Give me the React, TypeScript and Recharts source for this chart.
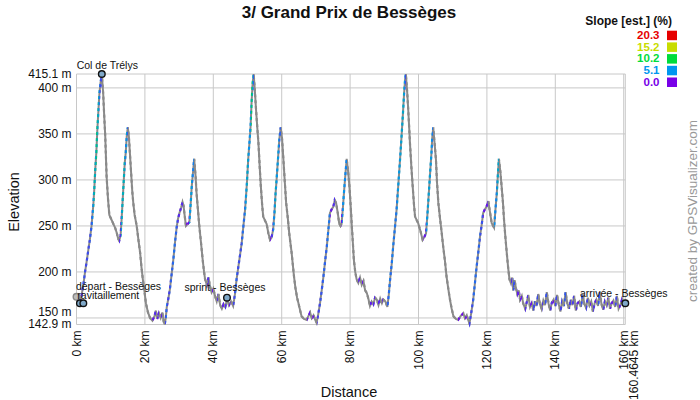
import { ComposedChart, Line, Scatter, XAxis, YAxis, CartesianGrid } from "recharts";

// elevation profile (km along route / metres)
const distanceKm = [
  0, 0.5, 1, 1.5, 2, 2.5, 3, 3.5, 3.9, 4.4,
  4.9, 5.2, 5.5, 5.8, 6.1, 6.4, 6.7, 7.0, 7.4, 7.8,
  8.1, 8.4, 8.8, 9.2, 9.6, 10.2, 10.8, 11.3, 11.8, 12.2,
  12.5, 12.9, 13.2, 13.5, 13.8, 14.1, 14.4, 14.7, 15.0, 15.3,
  15.6, 15.9, 16.3, 16.6, 17.0, 17.6, 18.1, 18.6, 19.0, 19.4,
  19.9, 20.3, 20.9, 21.5, 22.2, 22.8, 23.2, 23.6, 24.1, 24.6,
  25.1, 25.5, 25.8, 26.1, 26.4, 26.9, 27.3, 27.8, 28.3, 28.8,
  29.3, 29.7, 30.1, 30.6, 31.0, 31.3, 31.6, 32.0, 32.5, 33.0,
  33.4, 33.7, 34.1, 34.4, 34.8, 35.1, 35.5, 35.9, 36.4, 36.9,
  37.3, 37.6, 38.1, 38.6, 39.0, 39.5, 40.0, 40.5, 41.0, 41.5,
  42.0, 42.5, 43.0, 43.5, 44.0, 44.6, 45.2, 45.8, 46.3, 46.8,
  47.3, 47.8, 48.3, 48.8, 49.3, 49.8, 50.2, 50.6, 50.9, 51.2,
  51.5, 51.8, 52.1, 52.5, 52.9, 53.2, 53.6, 53.9, 54.3, 54.6,
  55.1, 55.6, 56.1, 56.6, 57.0, 57.5, 57.9, 58.2, 58.5, 58.9,
  59.3, 59.7, 60.1, 60.5, 60.9, 61.3, 61.8, 62.2, 62.6, 62.9,
  63.3, 63.6, 64.0, 64.5, 64.9, 65.4, 65.8, 66.5, 67.3, 67.8,
  68.3, 68.8, 69.3, 69.8, 70.2, 70.6, 71.2, 71.7, 72.2, 72.7,
  73.2, 73.7, 74.1, 74.6, 75.1, 75.5, 75.9, 76.4, 76.8, 77.2,
  77.5, 77.9, 78.2, 78.6, 79.0, 79.4, 79.8, 80.2, 80.5, 80.8,
  81.1, 81.5, 81.9, 82.4, 82.9, 83.4, 83.9, 84.4, 84.9, 85.4,
  85.8, 86.3, 86.8, 87.3, 87.8, 88.3, 88.8, 89.3, 89.7, 90.3,
  90.9, 91.3, 91.7, 92.2, 92.6, 93.1, 93.6, 94.1, 94.6, 95.0,
  95.4, 95.8, 96.1, 96.3, 96.7, 97.0, 97.3, 97.5, 97.9, 98.3,
  98.7, 99.0, 99.5, 99.9, 100.6, 101.2, 101.7, 102.2, 102.6, 102.9,
  103.4, 103.8, 104.0, 104.3, 104.7, 105.1, 105.4, 105.8, 106.3, 106.8,
  107.2, 107.7, 108.2, 108.7, 109.2, 109.7, 110.2, 110.9, 111.6, 112.3,
  113.1, 113.6, 114.1, 114.5, 114.9, 115.4, 116.0, 116.5, 117.0, 117.5,
  118.0, 118.5, 118.9, 119.4, 119.9, 120.4, 120.9, 121.4, 122.1, 122.5,
  122.9, 123.2, 123.5, 123.9, 124.3, 124.7, 125.0, 125.4, 125.8, 126.2,
  126.6, 127.0, 127.4, 127.7, 128.1, 128.5, 128.9, 129.3, 129.7, 130.2,
  130.6, 131.2, 131.7, 132.1, 132.6, 133.1, 133.6, 134.0, 134.5, 135.0,
  135.5, 136.0, 136.5, 137.0, 137.5, 138.0, 138.5, 139.0, 139.5, 140.0,
  140.5, 141.0, 141.5, 142.0, 142.5, 143.0, 143.5, 144.0, 144.5, 145.0,
  145.5, 146.0, 146.5, 147.0, 147.5, 148.0, 148.5, 149.0, 149.5, 150.0,
  150.5, 151.0, 151.5, 152.0, 152.5, 153.0, 153.5, 154.0, 154.5, 155.0,
  155.5, 156.0, 156.5, 157.0, 157.5, 158.0, 158.5, 159.0, 159.5, 160.0,
  160.4645,
];

const elevationM = [
  170, 172, 168, 175, 186, 200, 212, 225, 235, 250,
  272, 290, 312, 330, 355, 375, 394, 405, 415.1, 394,
  370, 348, 304, 280, 262, 257, 252, 248, 242, 236,
  234, 240, 258, 278, 298, 318, 330, 348, 357, 348,
  330, 312, 288, 275, 262, 250, 235, 221, 205, 192,
  178, 166, 156, 150, 147, 152, 158, 149, 155, 150,
  156, 146, 142.9, 150, 162, 172, 181, 197, 213, 232,
  249, 258, 264, 270, 276, 272, 262, 250, 252, 254,
  275, 293, 310, 323, 305, 286, 268, 250, 232, 213,
  200, 192, 186, 194, 185, 178, 182, 174, 168, 176,
  164, 160, 165, 162, 170, 164, 168, 163, 175, 192,
  205, 218, 231, 250, 268, 295, 322, 342, 358, 385,
  405, 415, 400, 376, 355, 340, 312, 293, 272, 260,
  256, 252, 242, 235, 237, 246, 265, 285, 300, 322,
  344, 357, 345, 322, 298, 275, 258, 242, 230, 221,
  206, 195, 183, 172, 166, 158, 152, 149, 148, 152,
  156, 150, 153, 148, 145, 152, 166, 180, 195, 212,
  228, 248, 264, 268, 271, 278, 275, 264, 253, 250,
  252, 270, 286, 305, 323, 310, 293, 270, 250, 232,
  213, 200, 192, 188, 194, 186, 190, 180, 177, 170,
  163, 168, 165, 172, 170, 164, 171, 166, 170, 168,
  162, 175, 192, 210, 228, 248, 268, 295, 322, 345,
  369, 395, 410, 415, 395, 376, 355, 340, 315, 293,
  272, 260, 256, 253, 244, 235, 238, 242, 262, 279,
  308, 330, 345, 357, 340, 322, 298, 275, 258, 242,
  228, 213, 195, 182, 170, 160, 152, 149, 148, 152,
  155, 150, 153, 148, 144, 155, 170, 188, 206, 222,
  239, 252, 264, 268, 271, 277, 265, 253, 248, 268,
  286, 305, 323, 310, 293, 275, 257, 238, 221, 205,
  192, 188, 194, 180, 191, 182, 176, 180, 170, 174,
  166, 160, 168, 175, 162, 166, 158, 168, 163, 176,
  165, 160, 169, 164, 178, 166, 158, 167, 170, 163,
  175, 165, 157, 168, 163, 178, 166, 160, 170, 164,
  174, 158, 166, 168, 162, 176, 165, 161, 172, 164,
  168, 157, 166, 170, 163, 178, 165, 159, 168, 164,
  172, 160, 166, 169, 162, 174, 160, 164, 170, 163,
  166,
];

const waypointNames = ["", "départ - Bessèges", "ravitaillement", "Col de Trélys", "sprint - Bessèges", "arrivée - Bessèges"];
const waypointKm = [0, 1.0, 2.0, 7.4, 44.0, 160.4645];
const waypointElev = [173, 166, 166, 415.1, 172, 166];

const slopeValues = ["20.3", "15.2", "10.2", "5.1", "0.0"];
const slopeColors = ["#e60000", "#c8dc00", "#00dc3c", "#0096f0", "#7800e8"];

const xTicks = [0, 20, 40, 60, 80, 100, 120, 140, 160, 160.4645];
const yTicks = [142.9, 150, 200, 250, 300, 350, 400, 415.1];

const FONT = "'Liberation Sans', Arial, Helvetica, sans-serif";
const GRAY = "#8a8a8a";
const maxKm = distanceKm[distanceKm.length - 1];

const profile = distanceKm.map((km, i) => ({ km, elev: elevationM[i] }));
const waypoints = waypointKm.map((km, i) => ({ km, elev: waypointElev[i], name: waypointNames[i] }));

// label placement per waypoint (dx/dy from marker centre)
const labelPlace: Record<string, { dx: number; dy: number; anchor: string }> = {
  "départ - Bessèges": { dx: -4, dy: -13, anchor: "start" },
  ravitaillement: { dx: -6, dy: -4, anchor: "start" },
  "Col de Trélys": { dx: 5.5, dy: -5, anchor: "middle" },
  "sprint - Bessèges": { dx: -2, dy: -7, anchor: "middle" },
  "arrivée - Bessèges": { dx: -1.5, dy: -6, anchor: "middle" },
};

function hexToRgb(h: string) {
  return [1, 3, 5].map((i) => parseInt(h.slice(i, i + 2), 16));
}

// slope scale runs 0.0 -> 20.3 ; colours in legend order are reversed
function slopeColor(pct: number) {
  if (pct <= 0) return GRAY;
  const vals = slopeValues.map(Number).reverse();
  const cols = [...slopeColors].reverse();
  if (pct >= vals[vals.length - 1]) return cols[cols.length - 1];
  let k = 0;
  while (pct > vals[k + 1]) k++;
  const t = (pct - vals[k]) / (vals[k + 1] - vals[k]);
  const a = hexToRgb(cols[k]);
  const b = hexToRgb(cols[k + 1]);
  const c = a.map((v, j) => Math.round(v + (b[j] - v) * t));
  return `rgb(${c[0]},${c[1]},${c[2]})`;
}

const gradientStops: { offset: number; color: string }[] = [];
for (let i = 0; i < profile.length - 1; i++) {
  const a = profile[i];
  const b = profile[i + 1];
  const pct = (b.elev - a.elev) / ((b.km - a.km) * 10);
  const color = slopeColor(pct);
  gradientStops.push({ offset: a.km / maxKm, color });
  gradientStops.push({ offset: b.km / maxKm, color });
}

const XTick = ({ x, y, payload }: any) => {
  const last = payload.value === xTicks[xTicks.length - 1];
  const tx = x + (last ? 9 : 0);
  return (
    <text
      x={tx}
      y={y}
      transform={`rotate(-90 ${tx} ${y})`}
      textAnchor="end"
      dy="0.35em"
      fontSize={12}
      fontFamily={FONT}
      fill="#111"
    >
      {`${payload.value} km`}
    </text>
  );
};

const YTick = ({ x, y, payload }: any) => {
  const nudge = payload.value === 150 ? -6 : payload.value === 142.9 ? -0.5 : 0;
  return (
    <text x={x} y={y + nudge} textAnchor="end" dy="0.35em" fontSize={12} fontFamily={FONT} fill="#111">
      {`${payload.value} m`}
    </text>
  );
};

const Waypoint = (props: any) => {
  const { cx, cy, payload } = props;
  const place = labelPlace[payload.name];
  const plain = payload.name === "";
  return (
    <g>
      <circle cx={cx} cy={cy} r={3.3} fill={plain ? "#bbb" : "#7fa8c8"} stroke={plain ? "#888" : "#111"} strokeWidth={1.4} />
      {place && (
        <text
          x={cx + place.dx}
          y={cy + place.dy}
          textAnchor={place.anchor as any}
          fontSize={10.5}
          fontFamily={FONT}
          fill="#111"
        >
          {payload.name}
        </text>
      )}
    </g>
  );
};

export default function App() {
  return (
    <div style={{ position: "absolute", left: 0, top: 0, width: 700, height: 400, background: "#fff" }}>
      <ComposedChart width={700} height={400} margin={{ top: 74, right: 74.7, bottom: 15, left: 0 }}>
        <defs>
          <linearGradient id="slopeGrad" x1="0" y1="0" x2="1" y2="0">
            {gradientStops.map((s, i) => (
              <stop key={i} offset={s.offset} stopColor={s.color} />
            ))}
          </linearGradient>
        </defs>
        <CartesianGrid stroke="#c8c8c8" />
        <XAxis
          dataKey="km"
          type="number"
          domain={[0, maxKm]}
          ticks={xTicks}
          interval={0}
          tick={<XTick />}
          tickSize={0}
          tickMargin={6}
          axisLine={false}
          height={60.5}
        />
        <YAxis
          type="number"
          domain={[142.9, 415.1]}
          ticks={yTicks}
          interval={0}
          tick={<YTick />}
          tickSize={0}
          tickMargin={5}
          axisLine={false}
          width={76.5}
        />
        <Line
          data={profile}
          dataKey="elev"
          type="linear"
          stroke={GRAY}
          strokeWidth={2}
          dot={false}
          activeDot={false}
          isAnimationActive={false}
        />
        <Line
          data={profile}
          dataKey="elev"
          type="linear"
          stroke="url(#slopeGrad)"
          strokeWidth={2.2}
          strokeDasharray="3 3"
          dot={false}
          activeDot={false}
          isAnimationActive={false}
        />
        <Scatter data={waypoints} dataKey="elev" shape={<Waypoint />} isAnimationActive={false} />
      </ComposedChart>
      <svg width={700} height={400} style={{ position: "absolute", left: 0, top: 0, pointerEvents: "none" }}>
        <text x={349} y={18} textAnchor="middle" fontSize={17} fontWeight="bold" fontFamily={FONT} fill="#111">
          3/ Grand Prix de Bessèges
        </text>
        <text x={349} y={397} textAnchor="middle" fontSize={14.5} fontFamily={FONT} fill="#111">
          Distance
        </text>
        <text x={19} y={202} transform="rotate(-90 19 202)" textAnchor="middle" fontSize={14.5} fontFamily={FONT} fill="#111">
          Elevation
        </text>
        <text x={697} y={211} transform="rotate(-90 697 211)" textAnchor="middle" fontSize={13.5} fontFamily={FONT} fill="#999">
          created by GPSVisualizer.com
        </text>
        <text x={672} y={25} textAnchor="end" fontSize={12} fontWeight="bold" fontFamily={FONT} fill="#111">
          Slope [est.] (%)
        </text>
        {slopeValues.map((v, i) => (
          <g key={v}>
            <text x={659.5} y={39 + i * 11.7} textAnchor="end" fontSize={11.5} fontWeight="bold" fontFamily={FONT} fill={slopeColors[i]}>
              {v}
            </text>
            <rect x={667} y={30.7 + i * 11.7} width={10} height={9.5} fill={slopeColors[i]} />
          </g>
        ))}
      </svg>
    </div>
  );
}
